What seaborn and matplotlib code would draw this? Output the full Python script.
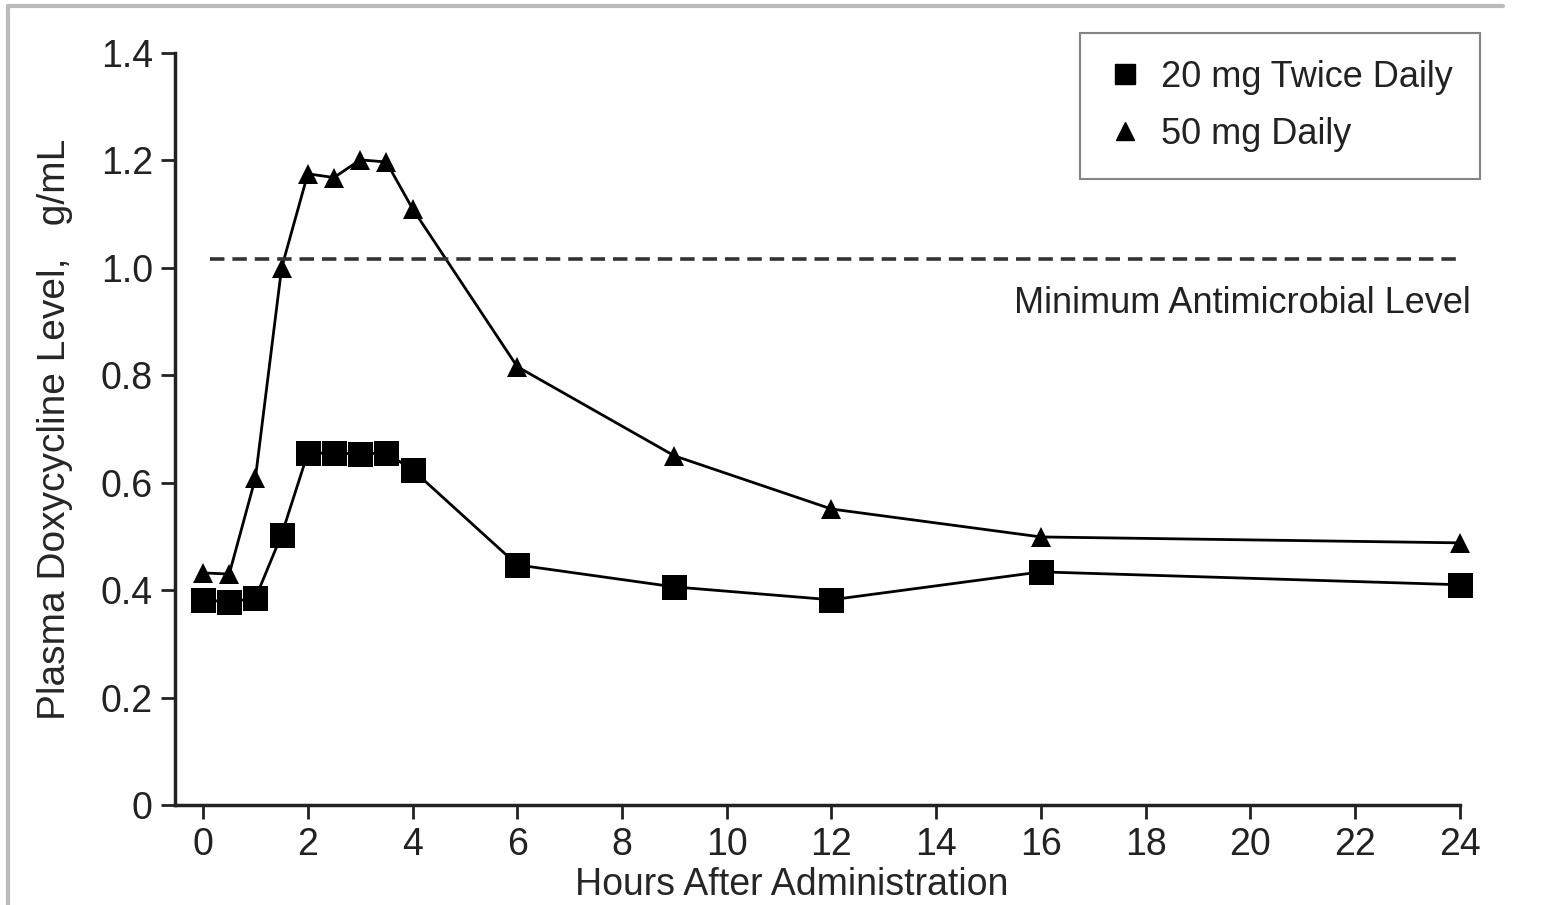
import pandas as pd
import matplotlib.pyplot as plt
import seaborn as sns
import numpy as np
from matplotlib.lines import Line2D

# hours after administration
hours = [0, 0.5, 1, 1.5, 2, 2.5, 3, 3.5, 4, 6, 9, 12, 16, 24]
# plasma levels (ug/mL)
twice_daily_20 = [0.382, 0.378, 0.385, 0.503, 0.655, 0.655, 0.654, 0.655, 0.624, 0.447, 0.406, 0.382, 0.434, 0.410]
daily_50 = [0.432, 0.430, 0.609, 1.000, 1.175, 1.168, 1.201, 1.197, 1.110, 0.816, 0.650, 0.551, 0.499, 0.488]
series_names = ['20 mg Twice Daily', '50 mg Daily']
min_level = 1.017
xticks = list(range(0, 25, 2))
yticks = [0, 0.2, 0.4, 0.6, 0.8, 1.0, 1.2, 1.4]
ytick_labels = ['0', '0.2', '0.4', '0.6', '0.8', '1.0', '1.2', '1.4']

df = pd.DataFrame({
    'hours': hours * 2,
    'level': twice_daily_20 + daily_50,
    'dose': [series_names[0]] * len(hours) + [series_names[1]] * len(hours),
})

sns.set_style('ticks')
plt.rcParams['font.family'] = ['Liberation Sans Narrow', 'Liberation Sans', 'DejaVu Sans']
plt.rcParams['text.color'] = '#222222'
plt.rcParams['xtick.color'] = '#222222'
plt.rcParams['ytick.color'] = '#222222'

fig = plt.figure(figsize=(15.63, 9.05), dpi=100)
ax = fig.add_axes([0.112, 0.1105, 0.822, 0.831])

sns.lineplot(data=df, x='hours', y='level', hue='dose', style='dose',
             markers={series_names[0]: 's', series_names[1]: '^'}, dashes=False,
             palette={series_names[0]: 'black', series_names[1]: 'black'},
             markersize=18, linewidth=2, markeredgewidth=0, legend=False, ax=ax)
# squares a bit bigger than triangles
for line in ax.lines:
    line.set_clip_on(False)
    if line.get_marker() == '^':
        line.set_markersize(15)

ax.plot([0.13, 24], [min_level, min_level], color='#333333', linestyle=(0, (4, 2.2)), linewidth=2.6)
ax.text(24.2, min_level - 0.05, 'Minimum Antimicrobial Level', ha='right', va='top', fontsize=26)

ax.set_xlim(-0.535, 24)
ax.set_ylim(0, 1.4)
ax.set_xticks(xticks)
ax.set_yticks(yticks)
ax.set_yticklabels(ytick_labels)
ax.tick_params(axis='both', labelsize=27, width=2, length=10, pad=6, direction='out')
for s in ['top', 'right']:
    ax.spines[s].set_visible(False)
for s in ['left', 'bottom']:
    ax.spines[s].set_linewidth(2.5)
    ax.spines[s].set_color('#222222')

ax.set_ylabel('Plasma Doxycycline Level,   g/mL', fontsize=28, labelpad=20)
ax.set_xlabel('Hours After Administration', fontsize=27, labelpad=12)
ax.xaxis.set_label_coords(0.48, -0.082)

handles = [Line2D([], [], color='black', marker='s', linestyle='none', markersize=14),
           Line2D([], [], color='black', marker='^', linestyle='none', markersize=13)]
leg = ax.legend(handles, series_names, loc='upper right', bbox_to_anchor=(1480 / 1563, 1 - 33 / 905),
                bbox_transform=fig.transFigure, fontsize=26, fancybox=False, frameon=True,
                handletextpad=0.5, labelspacing=0.6, borderpad=0.75, handlelength=1.0,
                borderaxespad=0)
leg.get_frame().set_edgecolor('#666666')
leg.get_frame().set_linewidth(1.5)

# grey frame around the picture
fig.add_artist(Line2D([8 / 1563, 1503 / 1563], [1 - 6 / 905, 1 - 6 / 905], color='#bbbbbb', linewidth=3))
fig.add_artist(Line2D([8 / 1563, 8 / 1563], [1 - 6 / 905, 0], color='#bbbbbb', linewidth=3))

fig.savefig('out.png', dpi=100)
